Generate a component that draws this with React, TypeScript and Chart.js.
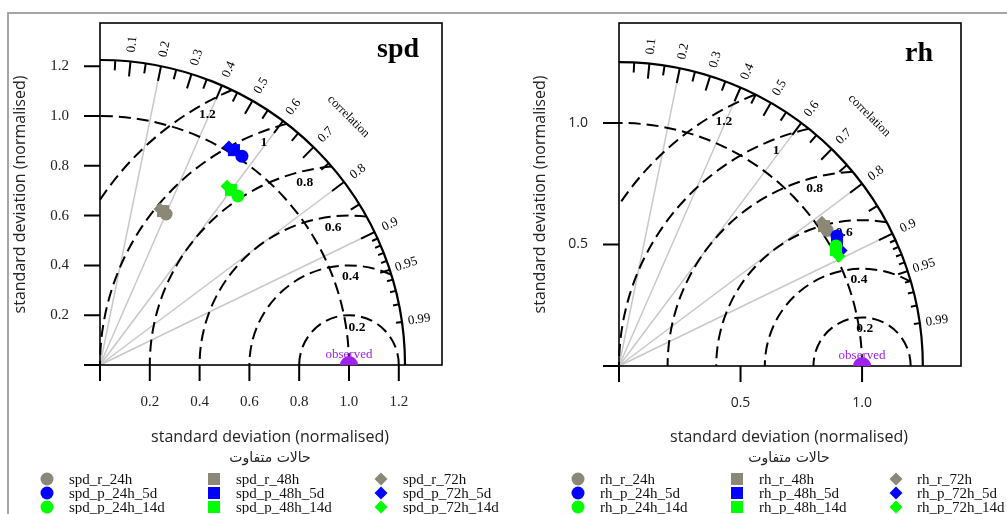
import React, { useEffect, useRef } from "react";
import { Chart, registerables } from "chart.js";

Chart.register(...registerables);

// ---------- data ----------
const SERIES_SUFFIXES = ["r_24h", "r_48h", "r_72h", "p_24h_5d", "p_48h_5d", "p_72h_5d", "p_24h_14d", "p_48h_14d", "p_72h_14d"];
const SERIES_COLORS = ["#8b8878", "#8b8878", "#8b8878", "#0000ff", "#0000ff", "#0000ff", "#00ff00", "#00ff00", "#00ff00"];
const SERIES_SHAPES = ["circle", "rect", "rectRot", "circle", "rect", "rectRot", "circle", "rect", "rectRot"];

// normalised standard deviation and correlation of each series
const SPD_SD = [0.662, 0.668, 0.671, 1.014, 1.017, 1.017, 0.876, 0.878, 0.881];
const SPD_COR = [0.401, 0.379, 0.359, 0.562, 0.529, 0.509, 0.632, 0.599, 0.579];
const RH_SD = [1.022, 1.021, 1.023, 1.044, 1.031, 1.03, 1.02, 1.012, 1.011];
const RH_COR = [0.838, 0.826, 0.816, 0.859, 0.87, 0.887, 0.875, 0.882, 0.895];

const OBSERVED_SD = 1.0;
const OBSERVED_COR = 1.0;
const OBSERVED_LABEL = "observed";

const CORR_LABELS = [0.1, 0.2, 0.3, 0.4, 0.5, 0.6, 0.7, 0.8, 0.9, 0.95, 0.99];
const CORR_GRAY_LINES = [0.2, 0.4, 0.6, 0.8, 0.9];
const CORR_MED_TICKS = [0.05, 0.15, 0.25, 0.35, 0.45, 0.55, 0.65, 0.75, 0.85, 0.95];
const CORR_SMALL_TICKS = [0.91, 0.92, 0.93, 0.94, 0.96, 0.97, 0.98, 0.99];
const RMS_LEVELS = [0.2, 0.4, 0.6, 0.8, 1, 1.2];
const REF_SD = 1.0;

const SPD_AXIS_TICKS = [0, 0.2, 0.4, 0.6, 0.8, 1.0, 1.2];
const RH_AXIS_TICKS = [0, 0.5, 1.0];
const SPD_MAXSD = 1.225;
const RH_MAXSD = 1.25;

const AXIS_TITLE = "standard deviation (normalised)";
const CORR_TITLE = "correlation";
const LEGEND_TITLE = "حالات متفاوت";

// ---------- layout / style ----------
const PANELS = [
  {
    name: "spd", sd: SPD_SD, cor: SPD_COR, maxsd: SPD_MAXSD, ticks: SPD_AXIS_TICKS,
    left: 0, width: 500, pad: { left: 100, top: 23, right: 58, bottom: 149 },
    xmax: 1.3735, ymax: 1.3735,
    tickFont: '15px "Liberation Serif"',
    titleX: 398, titleY: 57, yTitleX: 20, xTitleX: 270,
    legendMarkX: [47, 214, 381], legendTextX: [69, 236, 403],
    rmsAngles: [78, 89, 96.6, 103.6, 111, 119.5], corrTitleR: 1.152,
  },
  {
    name: "rh", sd: RH_SD, cor: RH_COR, maxsd: RH_MAXSD, ticks: RH_AXIS_TICKS,
    left: 500, width: 507, pad: { left: 119, top: 23, right: 46, bottom: 148 },
    xmax: 1.407, ymax: 1.411,
    tickFont: '14px "Open Sans"',
    titleX: 419, titleY: 61, yTitleX: 40, xTitleX: 289,
    legendMarkX: [78, 237, 396], legendTextX: [100, 259, 417],
    rmsAngles: [86, 92, 97.6, 105, 111.7, 119.5], corrTitleR: 1.165,
  },
];

const LEGEND_ROWS = [479, 493, 507];

function drawMarker(ctx: CanvasRenderingContext2D, shape: string, x: number, y: number, color: string) {
  ctx.fillStyle = color;
  ctx.beginPath();
  if (shape === "circle") {
    ctx.arc(x, y, 6.5, 0, Math.PI * 2);
  } else if (shape === "rect") {
    ctx.rect(x - 6, y - 6, 12, 12);
  } else {
    ctx.moveTo(x, y - 6.5);
    ctx.lineTo(x + 6.5, y);
    ctx.lineTo(x, y + 6.5);
    ctx.lineTo(x - 6.5, y);
    ctx.closePath();
  }
  ctx.fill();
}

const taylorPlugin = {
  id: "taylor",
  beforeDatasetsDraw(chart: any, _args: any, opts: any) {
    const P = opts.panel;
    const ctx: CanvasRenderingContext2D = chart.ctx;
    const xs = chart.scales.x;
    const ys = chart.scales.y;
    const px = (v: number) => xs.getPixelForValue(v);
    const py = (v: number) => ys.getPixelForValue(v);
    const area = chart.chartArea;
    const ox = px(0), oy = py(0);
    const ux = px(1) - px(0), uy = py(0) - py(1);
    const M = P.maxsd;
    ctx.save();

    // gray correlation rays
    ctx.strokeStyle = "#c8c8c8";
    ctx.lineWidth = 1.5;
    for (const c of CORR_GRAY_LINES) {
      const th = Math.acos(c);
      ctx.beginPath();
      ctx.moveTo(ox, oy);
      ctx.lineTo(px(M * Math.cos(th)), py(M * Math.sin(th)));
      ctx.stroke();
    }

    // dashed arcs
    ctx.strokeStyle = "#000";
    ctx.lineWidth = 2;
    ctx.setLineDash([12, 6]);
    ctx.beginPath();
    ctx.ellipse(ox, oy, ux * REF_SD, uy * REF_SD, 0, 0, -Math.PI / 2, true);
    ctx.stroke();
    const cx = px(OBSERVED_SD), cy = py(0);
    for (const g of RMS_LEVELS) {
      const c0 = (M * M - OBSERVED_SD * OBSERVED_SD - g * g) / (2 * g * OBSERVED_SD);
      const t0 = c0 >= 1 ? 0 : Math.acos(c0);
      const t1 = g > OBSERVED_SD ? Math.acos(-OBSERVED_SD / g) : Math.PI;
      ctx.beginPath();
      ctx.ellipse(cx, cy, ux * g, uy * g, 0, -t0, -t1, true);
      ctx.stroke();
    }
    ctx.setLineDash([]);

    // outer arc
    ctx.lineWidth = 2.2;
    ctx.beginPath();
    ctx.ellipse(ox, oy, ux * M, uy * M, 0, 0, -Math.PI / 2, true);
    ctx.stroke();

    // arc ticks
    ctx.lineWidth = 2;
    const tick = (c: number, len: number) => {
      const th = Math.acos(c);
      const x1 = px(M * Math.cos(th)), y1 = py(M * Math.sin(th));
      ctx.beginPath();
      ctx.moveTo(x1, y1);
      ctx.lineTo(x1 - Math.cos(th) * len, y1 + Math.sin(th) * len);
      ctx.stroke();
    };
    CORR_LABELS.slice(0, 9).forEach((c) => tick(c, 15));
    CORR_MED_TICKS.forEach((c) => tick(c, 10));
    CORR_SMALL_TICKS.forEach((c) => tick(c, 6));

    // box
    ctx.lineWidth = 1.6;
    ctx.strokeRect(area.left, area.top, area.right - area.left, area.bottom - area.top);

    // axis ticks and labels
    ctx.lineWidth = 2;
    ctx.fillStyle = "#222";
    ctx.font = P.tickFont;
    for (const v of P.ticks) {
      ctx.beginPath();
      ctx.moveTo(area.left - 16, py(v));
      ctx.lineTo(area.left, py(v));
      ctx.moveTo(px(v), area.bottom);
      ctx.lineTo(px(v), area.bottom + 16);
      ctx.stroke();
      if (v !== 0) {
        ctx.textAlign = "right";
        ctx.textBaseline = "middle";
        ctx.fillText(v.toFixed(1), area.left - 31, py(v));
        ctx.textAlign = "center";
        ctx.fillText(v.toFixed(1), px(v), area.bottom + 37);
      }
    }

    // correlation labels
    ctx.fillStyle = "#000";
    ctx.font = '13px "Liberation Serif"';
    ctx.textAlign = "center";
    ctx.textBaseline = "middle";
    for (const c of CORR_LABELS) {
      const th = Math.acos(c);
      const r = M * 1.057;
      ctx.save();
      ctx.translate(px(r * Math.cos(th)), py(r * Math.sin(th)));
      ctx.rotate(-th);
      ctx.fillText(String(c), 0, 0);
      ctx.restore();
    }
    ctx.save();
    const rc = M * P.corrTitleR;
    ctx.translate(px(rc * Math.cos(Math.PI / 4)), py(rc * Math.sin(Math.PI / 4)));
    ctx.rotate(Math.PI / 4);
    ctx.font = '12.5px "Liberation Serif"';
    ctx.fillText(CORR_TITLE, 0, 0);
    ctx.restore();

    // RMS labels
    ctx.font = 'bold 13.5px "Liberation Serif"';
    RMS_LEVELS.forEach((g, i) => {
      const a = (P.rmsAngles[i] * Math.PI) / 180;
      const d = g - 0.045;
      ctx.fillText(String(g), px(OBSERVED_SD + d * Math.cos(a)), py(d * Math.sin(a)));
    });

    // observed label
    ctx.fillStyle = "#a020f0";
    ctx.font = '13px "Liberation Serif"';
    ctx.fillText(OBSERVED_LABEL, px(OBSERVED_SD), area.bottom - 10);

    // panel title
    ctx.fillStyle = "#000";
    ctx.font = 'bold 28px "Liberation Serif"';
    ctx.textBaseline = "alphabetic";
    ctx.fillText(P.name, P.titleX, P.titleY);

    // axis titles
    ctx.fillStyle = "#222";
    ctx.font = '16px "Open Sans"';
    ctx.textBaseline = "middle";
    ctx.fillText(AXIS_TITLE, P.xTitleX, 437);
    ctx.save();
    ctx.translate(P.yTitleX, 194.5);
    ctx.rotate(-Math.PI / 2);
    ctx.fillText(AXIS_TITLE, 0, 0);
    ctx.restore();

    ctx.restore();
  },
  afterDraw(chart: any, _args: any, opts: any) {
    const P = opts.panel;
    const ctx: CanvasRenderingContext2D = chart.ctx;
    ctx.save();
    ctx.fillStyle = "#222";
    ctx.font = '14px "DejaVu Sans"';
    ctx.textAlign = "center";
    ctx.textBaseline = "middle";
    ctx.fillText(LEGEND_TITLE, P.xTitleX, 458);
    ctx.font = '15px "Liberation Serif"';
    ctx.textAlign = "left";
    SERIES_SUFFIXES.forEach((s, i) => {
      const row = Math.floor(i / 3), col = i % 3;
      drawMarker(ctx, SERIES_SHAPES[i], P.legendMarkX[col], LEGEND_ROWS[row], SERIES_COLORS[i]);
      ctx.fillStyle = "#111";
      ctx.fillText(P.name + "_" + s, P.legendTextX[col], LEGEND_ROWS[row] + 1);
    });
    ctx.restore();
  },
};

function pointOf(sd: number, cor: number) {
  return { x: sd * cor, y: sd * Math.sqrt(Math.max(0, 1 - cor * cor)) };
}

function TaylorPanel({ panel }: { panel: any }) {
  const ref = useRef<HTMLCanvasElement>(null);
  useEffect(() => {
    if (!ref.current) return;
    const groupOrder = [3, 3, 3, 2, 2, 2, 1, 1, 1];
    const datasets: any[] = SERIES_SUFFIXES.map((s, i) => ({
      label: panel.name + "_" + s,
      data: [pointOf(panel.sd[i], panel.cor[i])],
      pointStyle: SERIES_SHAPES[i],
      pointRadius: SERIES_SHAPES[i] === "rect" ? 8.5 : 6.5,
      backgroundColor: SERIES_COLORS[i],
      borderColor: SERIES_COLORS[i],
      borderWidth: 0,
      order: groupOrder[i],
    }));
    datasets.push({
      label: OBSERVED_LABEL,
      data: [pointOf(OBSERVED_SD, OBSERVED_COR)],
      pointStyle: "circle",
      pointRadius: 9,
      backgroundColor: "#a020f0",
      borderColor: "#a020f0",
      borderWidth: 0,
      clip: 0,
      order: 0,
    });
    const chart = new Chart(ref.current, {
      type: "scatter",
      data: { datasets },
      options: {
        animation: false,
        responsive: false,
        devicePixelRatio: 1,
        events: [],
        layout: { padding: panel.pad },
        scales: {
          x: { type: "linear", min: 0, max: panel.xmax, display: false },
          y: { type: "linear", min: 0, max: panel.ymax, display: false },
        },
        plugins: {
          legend: { display: false },
          tooltip: { enabled: false },
          taylor: { panel },
        } as any,
      },
      plugins: [taylorPlugin as any],
    });
    return () => chart.destroy();
  }, [panel]);
  return (
    <canvas
      ref={ref}
      width={panel.width}
      height={514}
      style={{ position: "absolute", left: panel.left, top: 0, width: panel.width, height: 514 }}
    />
  );
}

export default function App() {
  return (
    <div style={{ position: "fixed", left: 0, top: 0, width: 1007, height: 514, background: "#fff", overflow: "hidden" }}>
      <div
        style={{
          position: "absolute", left: 7, top: 12, width: 1010, height: 510,
          borderTop: "2px solid #a6a6a6", borderLeft: "2px solid #a6a6a6",
        }}
      />
      {PANELS.map((p) => (
        <TaylorPanel key={p.name} panel={p} />
      ))}
    </div>
  );
}
